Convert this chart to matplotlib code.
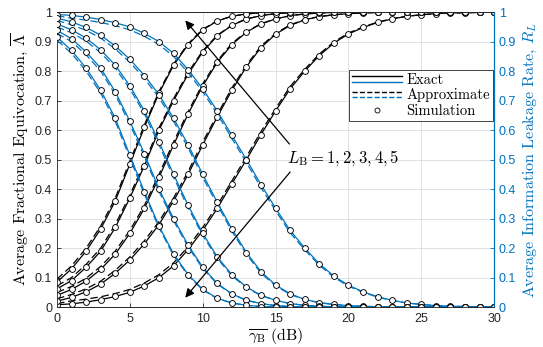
import matplotlib
matplotlib.use("Agg")
import matplotlib.pyplot as plt
from matplotlib.lines import Line2D
from matplotlib.legend_handler import HandlerBase
import numpy as np

plt.rcParams['mathtext.fontset'] = 'cm'
plt.rcParams['font.family'] = ['Liberation Sans', 'DejaVu Sans']

snr_db = list(range(0, 31))

# average fractional equivocation (left axis), exact, L_B = 1..5
equiv_exact_1 = [0.008, 0.011, 0.017, 0.025, 0.036, 0.05, 0.072, 0.1, 0.14, 0.195, 0.26, 0.335, 0.418, 0.5, 0.585,
                 0.665, 0.74, 0.8, 0.853, 0.895, 0.926, 0.948, 0.965, 0.977, 0.986, 0.991, 0.995, 0.997, 0.998, 0.999, 1.0]
equiv_exact_2 = [0.02, 0.033, 0.052, 0.078, 0.115, 0.16, 0.215, 0.28, 0.36, 0.45, 0.55, 0.645, 0.735, 0.815, 0.88,
                 0.925, 0.955, 0.974, 0.985, 0.991, 0.995, 0.997, 0.999, 1.0, 1.0, 1.0, 1.0, 1.0, 1.0, 1.0, 1.0]
equiv_exact_3 = [0.04, 0.06, 0.088, 0.128, 0.18, 0.25, 0.335, 0.44, 0.55, 0.655, 0.75, 0.83, 0.89, 0.932, 0.96,
                 0.977, 0.988, 0.994, 0.997, 0.999, 1.0, 1.0, 1.0, 1.0, 1.0, 1.0, 1.0, 1.0, 1.0, 1.0, 1.0]
equiv_exact_4 = [0.062, 0.09, 0.135, 0.19, 0.27, 0.37, 0.48, 0.6, 0.7, 0.79, 0.865, 0.92, 0.955, 0.977, 0.988,
                 0.995, 0.998, 1.0, 1.0, 1.0, 1.0, 1.0, 1.0, 1.0, 1.0, 1.0, 1.0, 1.0, 1.0, 1.0, 1.0]
equiv_exact_5 = [0.085, 0.13, 0.19, 0.265, 0.36, 0.485, 0.61, 0.725, 0.82, 0.89, 0.94, 0.97, 0.986, 0.994, 0.998,
                 1.0, 1.0, 1.0, 1.0, 1.0, 1.0, 1.0, 1.0, 1.0, 1.0, 1.0, 1.0, 1.0, 1.0, 1.0, 1.0]

# approximate equivocation
equiv_approx_1 = [0.012, 0.021, 0.027, 0.035, 0.046, 0.06, 0.082, 0.11, 0.15, 0.205, 0.27, 0.345, 0.428, 0.51, 0.595,
                  0.673, 0.748, 0.806, 0.858, 0.899, 0.929, 0.95, 0.966, 0.978, 0.986, 0.991, 0.995, 0.997, 0.998, 0.999, 1.0]
equiv_approx_2 = [0.028, 0.043, 0.062, 0.088, 0.125, 0.17, 0.225, 0.29, 0.37, 0.46, 0.56, 0.653, 0.743, 0.821, 0.885,
                  0.928, 0.957, 0.975, 0.985, 0.991, 0.995, 0.997, 0.999, 1.0, 1.0, 1.0, 1.0, 1.0, 1.0, 1.0, 1.0]
equiv_approx_3 = [0.05, 0.07, 0.098, 0.138, 0.19, 0.26, 0.345, 0.45, 0.56, 0.663, 0.757, 0.835, 0.894, 0.934, 0.961,
                  0.977, 0.988, 0.994, 0.997, 0.999, 1.0, 1.0, 1.0, 1.0, 1.0, 1.0, 1.0, 1.0, 1.0, 1.0, 1.0]
equiv_approx_4 = [0.072, 0.1, 0.145, 0.2, 0.28, 0.38, 0.49, 0.608, 0.707, 0.796, 0.869, 0.922, 0.956, 0.977, 0.988,
                  0.995, 0.998, 1.0, 1.0, 1.0, 1.0, 1.0, 1.0, 1.0, 1.0, 1.0, 1.0, 1.0, 1.0, 1.0, 1.0]
equiv_approx_5 = [0.095, 0.14, 0.2, 0.275, 0.37, 0.495, 0.618, 0.731, 0.825, 0.893, 0.942, 0.971, 0.986, 0.994, 0.998,
                  1.0, 1.0, 1.0, 1.0, 1.0, 1.0, 1.0, 1.0, 1.0, 1.0, 1.0, 1.0, 1.0, 1.0, 1.0, 1.0]

# average information leakage rate (right axis), exact
leak_exact_1 = [0.992, 0.989, 0.983, 0.975, 0.964, 0.95, 0.928, 0.9, 0.86, 0.805, 0.74, 0.665, 0.582, 0.5, 0.415,
                0.335, 0.26, 0.2, 0.147, 0.105, 0.074, 0.052, 0.035, 0.023, 0.014, 0.009, 0.005, 0.003, 0.002, 0.001, 0.0]
leak_exact_2 = [0.98, 0.967, 0.948, 0.922, 0.885, 0.84, 0.785, 0.72, 0.64, 0.55, 0.45, 0.355, 0.265, 0.185, 0.12,
                0.075, 0.045, 0.026, 0.015, 0.009, 0.005, 0.003, 0.001, 0.0, 0.0, 0.0, 0.0, 0.0, 0.0, 0.0, 0.0]
leak_exact_3 = [0.96, 0.94, 0.912, 0.872, 0.82, 0.75, 0.665, 0.56, 0.45, 0.345, 0.25, 0.17, 0.11, 0.068, 0.04,
                0.023, 0.012, 0.006, 0.003, 0.001, 0.0, 0.0, 0.0, 0.0, 0.0, 0.0, 0.0, 0.0, 0.0, 0.0, 0.0]
leak_exact_4 = [0.938, 0.91, 0.865, 0.81, 0.73, 0.63, 0.52, 0.4, 0.3, 0.21, 0.135, 0.08, 0.045, 0.023, 0.012,
                0.005, 0.002, 0.0, 0.0, 0.0, 0.0, 0.0, 0.0, 0.0, 0.0, 0.0, 0.0, 0.0, 0.0, 0.0, 0.0]
leak_exact_5 = [0.915, 0.87, 0.81, 0.735, 0.64, 0.515, 0.39, 0.275, 0.18, 0.11, 0.06, 0.03, 0.014, 0.006, 0.002,
                0.0, 0.0, 0.0, 0.0, 0.0, 0.0, 0.0, 0.0, 0.0, 0.0, 0.0, 0.0, 0.0, 0.0, 0.0, 0.0]

# approximate leakage
leak_approx_1 = [0.988, 0.979, 0.973, 0.965, 0.954, 0.94, 0.918, 0.89, 0.85, 0.795, 0.73, 0.655, 0.572, 0.49, 0.405,
                 0.327, 0.252, 0.194, 0.142, 0.101, 0.071, 0.05, 0.034, 0.022, 0.014, 0.009, 0.005, 0.003, 0.002, 0.001, 0.0]
leak_approx_2 = [0.972, 0.957, 0.938, 0.912, 0.875, 0.83, 0.775, 0.71, 0.63, 0.54, 0.44, 0.347, 0.257, 0.179, 0.115,
                 0.072, 0.043, 0.025, 0.015, 0.009, 0.005, 0.003, 0.001, 0.0, 0.0, 0.0, 0.0, 0.0, 0.0, 0.0, 0.0]
leak_approx_3 = [0.95, 0.93, 0.902, 0.862, 0.81, 0.74, 0.655, 0.55, 0.44, 0.337, 0.243, 0.165, 0.106, 0.066, 0.039,
                 0.023, 0.012, 0.006, 0.003, 0.001, 0.0, 0.0, 0.0, 0.0, 0.0, 0.0, 0.0, 0.0, 0.0, 0.0, 0.0]
leak_approx_4 = [0.928, 0.9, 0.855, 0.8, 0.72, 0.62, 0.51, 0.392, 0.293, 0.204, 0.131, 0.078, 0.044, 0.023, 0.012,
                 0.005, 0.002, 0.0, 0.0, 0.0, 0.0, 0.0, 0.0, 0.0, 0.0, 0.0, 0.0, 0.0, 0.0, 0.0, 0.0]
leak_approx_5 = [0.905, 0.86, 0.8, 0.725, 0.63, 0.505, 0.382, 0.269, 0.175, 0.107, 0.058, 0.029, 0.014, 0.006, 0.002,
                 0.0, 0.0, 0.0, 0.0, 0.0, 0.0, 0.0, 0.0, 0.0, 0.0, 0.0, 0.0, 0.0, 0.0, 0.0, 0.0]

equiv_exact = [equiv_exact_1, equiv_exact_2, equiv_exact_3, equiv_exact_4, equiv_exact_5]
equiv_approx = [equiv_approx_1, equiv_approx_2, equiv_approx_3, equiv_approx_4, equiv_approx_5]
leak_exact = [leak_exact_1, leak_exact_2, leak_exact_3, leak_exact_4, leak_exact_5]
leak_approx = [leak_approx_1, leak_approx_2, leak_approx_3, leak_approx_4, leak_approx_5]

BLUE = '#0072BD'
DARK = '#262626'
LW = 0.9
DASH = (0, (6, 3))
SERIF = 'cmr10'


class StackedLines(HandlerBase):
    # two short lines one above the other (black over blue)
    def create_artists(self, legend, orig_handle, xdescent, ydescent,
                       width, height, fontsize, trans):
        out = []
        for k, h in enumerate(orig_handle):
            y = height / 2 - ydescent + (2.0 if k == 0 else -2.0)
            ln = Line2D([-xdescent, -xdescent + width], [y, y], color=h.get_color(),
                        linestyle=h.get_linestyle(), lw=h.get_linewidth(), transform=trans)
            out.append(ln)
        return out


fig = plt.figure(figsize=(5.43, 3.47), dpi=100)
ax = fig.add_axes([0.105, 0.115, 0.805, 0.85])
ax2 = ax.twinx()

mk = dict(marker='o', ms=4.2, mfc='white', mec='black', mew=0.65, ls='none')

for ex, ap in zip(equiv_exact, equiv_approx):
    ax.plot(snr_db, ap, color='black', lw=LW, ls=DASH)
    ax.plot(snr_db, ex, color='black', lw=LW)
    ax.plot(snr_db, ex, **mk)

for ex, ap in zip(leak_exact, leak_approx):
    ax2.plot(snr_db, ap, color=BLUE, lw=LW, ls=DASH)
    ax2.plot(snr_db, ex, color=BLUE, lw=LW)
    ax2.plot(snr_db, ex, **mk)

for a in (ax, ax2):
    a.set_xlim(0, 30)
    a.set_ylim(0, 1)
    a.set_yticks(np.arange(0, 1.01, 0.1))
    a.set_yticklabels(['0', '0.1', '0.2', '0.3', '0.4', '0.5', '0.6', '0.7', '0.8', '0.9', '1'])

ax.set_xticks([0, 5, 10, 15, 20, 25, 30])
ax.grid(True, color='#dcdcdc', lw=0.6)
ax.set_axisbelow(True)
ax.tick_params(direction='in', length=3, width=0.6, labelsize=9, colors=DARK)
ax2.tick_params(direction='in', length=3, width=0.6, labelsize=9, colors=BLUE)
ax.tick_params(axis='x', pad=4)
for s in ('left', 'bottom', 'top'):
    ax.spines[s].set_color(DARK)
    ax.spines[s].set_linewidth(0.6)
ax2.spines['right'].set_color(BLUE)
ax2.spines['right'].set_linewidth(0.8)
ax2.spines['left'].set_visible(False)
ax2.spines['top'].set_color(DARK)
ax2.spines['top'].set_linewidth(0.6)
ax2.spines['bottom'].set_color(DARK)
ax2.spines['bottom'].set_linewidth(0.6)

ax.set_xlabel(r'$\overline{\gamma_{\mathrm{B}}}$ (dB)', fontsize=11.5, family=SERIF, labelpad=1)
ax.set_ylabel(r'Average Fractional Equivocation, $\overline{\Lambda}$', fontsize=11.5, family=SERIF, labelpad=3)
ax2.set_ylabel(r'Average Information Leakage Rate, $R_L$', fontsize=11.5, family=SERIF, color=BLUE, labelpad=4)

# arrows and label for L_B
ax2.annotate('', xy=(8.8, 0.972), xytext=(15.95, 0.553),
             arrowprops=dict(arrowstyle='-|>', color='black', lw=0.9, mutation_scale=13, shrinkA=0, shrinkB=0))
ax2.annotate('', xy=(8.8, 0.032), xytext=(16.0, 0.458),
             arrowprops=dict(arrowstyle='-|>', color='black', lw=0.9, mutation_scale=13, shrinkA=0, shrinkB=0))
ax2.text(15.75, 0.505, r'$L_{\mathrm{B}} = 1, 2, 3, 4, 5$', fontsize=12, va='center', ha='left')

# legend
h_ex = (Line2D([], [], color='black', lw=1.0), Line2D([], [], color=BLUE, lw=1.0))
h_ap = (Line2D([], [], color='black', lw=1.0, ls=(0, (3.5, 2))), Line2D([], [], color=BLUE, lw=1.0, ls=(0, (3.5, 2))))
h_sim = Line2D([], [], marker='o', ms=3.6, mfc='white', mec='black', mew=0.6, ls='none')
leg = ax2.legend([h_ex, h_ap, h_sim], ['Exact', 'Approximate', 'Simulation'],
                 handler_map={tuple: StackedLines()},
                 loc='upper right', bbox_to_anchor=(0.998, 0.805),
                 prop={'family': SERIF, 'size': 10.5},
                 frameon=True, fancybox=False, framealpha=1, edgecolor=DARK,
                 handlelength=3.4, handletextpad=0.3, borderpad=0.25, labelspacing=0.1,
                 borderaxespad=0)
leg.get_frame().set_linewidth(0.6)

fig.savefig('out.png', dpi=100)
